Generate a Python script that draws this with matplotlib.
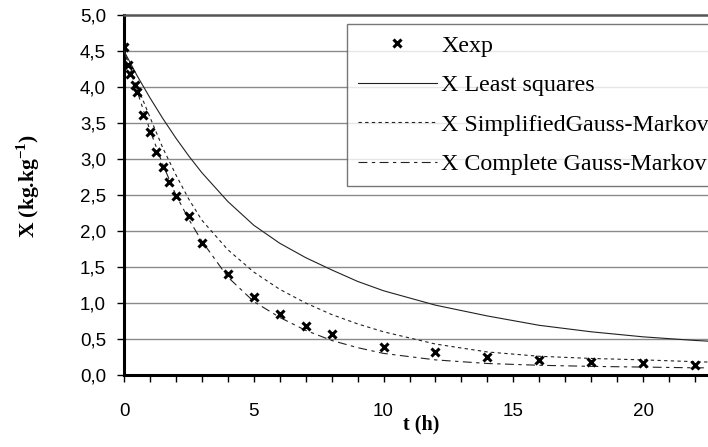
import matplotlib
matplotlib.use("Agg")
import matplotlib.pyplot as plt
from matplotlib.ticker import MultipleLocator, FuncFormatter

plt.rcParams["mathtext.fontset"] = "custom"
plt.rcParams["mathtext.rm"] = "Liberation Serif"
plt.rcParams["mathtext.bf"] = "Liberation Serif:bold"

# experimental data
t_exp = [0, 0.17, 0.25, 0.42, 0.5, 0.75, 1, 1.25, 1.5, 1.75, 2, 2.5, 3, 4, 5, 6, 7, 8, 10, 12, 14, 16, 18, 20, 22]
x_exp = [4.55, 4.30, 4.18, 4.03, 3.93, 3.61, 3.37, 3.10, 2.89, 2.68, 2.48, 2.21, 1.84, 1.40, 1.09, 0.85, 0.68, 0.57, 0.39, 0.315, 0.245, 0.21, 0.18, 0.16, 0.14]

# model curves
t_fit = [0, 0.5, 1, 1.5, 2, 2.5, 3, 4, 5, 6, 7, 8, 9, 10, 12, 14, 16, 18, 20, 22, 22.5]
x_ls = [4.50, 4.16, 3.85, 3.56, 3.29, 3.04, 2.81, 2.41, 2.08, 1.83, 1.63, 1.46, 1.30, 1.17, 0.97, 0.82, 0.69, 0.60, 0.53, 0.48, 0.47]
x_sgm = [4.50, 4.02, 3.58, 3.15, 2.78, 2.44, 2.15, 1.74, 1.43, 1.19, 1.00, 0.84, 0.71, 0.60, 0.43, 0.32, 0.26, 0.23, 0.21, 0.185, 0.18]
x_cgm = [4.50, 3.95, 3.40, 2.92, 2.50, 2.16, 1.86, 1.36, 1.02, 0.80, 0.62, 0.48, 0.38, 0.30, 0.21, 0.16, 0.135, 0.12, 0.11, 0.10, 0.10]

labels = ["Xexp", "X Least squares", "X SimplifiedGauss-Markov", "X Complete Gauss-Markov"]

fig = plt.figure(figsize=(7.08, 4.47), dpi=100)
ax = fig.add_axes([124/708, 1-375/447, (708-124)/708, 360/447])

ax.set_xlim(0, 22.5)
ax.set_ylim(0, 5.0)

for y in [0.5, 1.0, 1.5, 2.0, 2.5, 3.0, 3.5, 4.0, 4.5]:
    ax.axhline(y, color="#8a8a8a", lw=1.0, zorder=1)

lc = "#222222"
h1, = ax.plot(t_exp, x_exp, linestyle="none", marker="x", ms=6, mew=2.2, color="black", zorder=5)
h2, = ax.plot(t_fit, x_ls, color=lc, lw=0.8, zorder=3)
h3, = ax.plot(t_fit, x_sgm, color=lc, lw=0.8, dashes=(3, 3), zorder=3)
h4, = ax.plot(t_fit, x_cgm, color=lc, lw=0.8, dashes=(8, 4, 3, 4), zorder=3)

ax.xaxis.set_major_locator(MultipleLocator(5))
ax.xaxis.set_minor_locator(MultipleLocator(1))
ax.yaxis.set_major_locator(MultipleLocator(0.5))
ax.yaxis.set_major_formatter(FuncFormatter(lambda v, p: f"{v:.1f}".replace(".", ",")))
ax.xaxis.set_major_formatter(FuncFormatter(lambda v, p: f"{v:.0f}"))

ax.tick_params(axis="both", which="both", direction="out", color="black", width=1)
ax.tick_params(axis="x", which="major", length=5, pad=15)
ax.tick_params(axis="x", which="minor", length=5)
ax.tick_params(axis="y", which="major", length=5, pad=8)
for lab in ax.get_xticklabels() + ax.get_yticklabels():
    lab.set_fontfamily("Liberation Sans")
    lab.set_fontsize(13.5)

ax.spines["left"].set_linewidth(2.2)
ax.spines["bottom"].set_linewidth(2.2)
ax.spines["top"].set_linewidth(1.8)
ax.spines["top"].set_color("#555555")
ax.spines["right"].set_visible(False)

ax.set_xlabel("t (h)", fontfamily="Liberation Serif", fontweight="bold", fontsize=14.5)
ax.xaxis.set_label_coords((421-124)/584, (375-414)/360)
ax.set_ylabel("X (kg.kg$^{\\mathbf{-1}}$)", fontfamily="Liberation Serif", fontweight="bold", fontsize=15.5)
ax.yaxis.set_label_coords((42-124)/584, 0.525)

leg = fig.legend([h1, h2, h3, h4], labels, loc="upper left",
                 bbox_to_anchor=(347/708, 1-24/447),
                 prop={"family": "Liberation Serif", "size": 17.3},
                 frameon=True, fancybox=False, edgecolor="#555555",
                 handlelength=3.3, handletextpad=0.17, labelspacing=0.74,
                 borderpad=0.45, borderaxespad=0)
leg.get_frame().set_linewidth(1.0)

fig.savefig("out.png", dpi=100)
